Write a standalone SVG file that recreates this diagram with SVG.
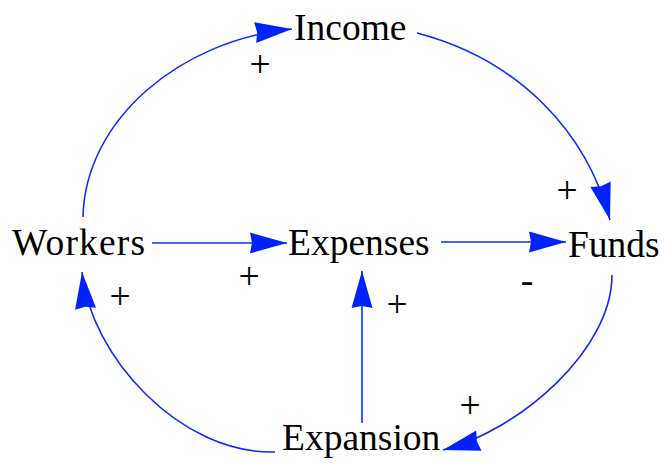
<svg xmlns="http://www.w3.org/2000/svg" width="664" height="467" viewBox="0 0 664 467">
<style>
.lbl{font-family:"Liberation Serif","Times New Roman",serif;font-size:37.5px;fill:#000}
.sgn{font-family:"Liberation Serif","Times New Roman",serif;font-size:37.5px;fill:#000;text-anchor:middle}
.c{fill:none;stroke:#0a2cff;stroke-width:1.6}
</style>
<defs>
<marker id="ah" markerUnits="userSpaceOnUse" markerWidth="42" markerHeight="26" viewBox="-40 -13 42 26" refX="0" refY="0" orient="auto">
<path d="M0,0 L-37,-10.5 L-35,0 L-37,10.5 z" fill="#0022ff"/>
</marker>
</defs>
<rect width="664" height="467" fill="#fff"/>
<g id="connectors">
<path class="c" d="M83,217 C85,120 180,40 292,29" marker-end="url(#ah)"/>
<path class="c" d="M417,33 C520,60 587,133 610,220" marker-end="url(#ah)"/>
<path class="c" d="M612,275 C612,350 520,430 443,450" marker-end="url(#ah)"/>
<path class="c" d="M275,452 C180,455 90,355 82,272" marker-end="url(#ah)"/>
<path class="c" d="M152,243 L287,243" marker-end="url(#ah)"/>
<path class="c" d="M441,242 L566,242" marker-end="url(#ah)"/>
<path class="c" d="M362,423 L362,271" marker-end="url(#ah)"/>
</g>
<g id="income"><text class="lbl" x="294" y="40">Income</text></g>
<g id="workers"><text class="lbl" x="12" y="255" textLength="133" lengthAdjust="spacing">Workers</text></g>
<g id="expenses"><text class="lbl" x="288" y="255">Expenses</text></g>
<g id="funds"><text class="lbl" x="568" y="257">Funds</text></g>
<g id="expansion"><text class="lbl" x="282" y="450">Expansion</text></g>
<g id="polarities">
<text class="sgn" x="260" y="77">+</text>
<text class="sgn" x="567" y="203">+</text>
<text class="sgn" x="249" y="289">+</text>
<text class="sgn" x="120" y="309">+</text>
<text class="sgn" x="397" y="317">+</text>
<text class="sgn" x="470" y="418">+</text>
<text class="sgn" x="527" y="293">-</text>
</g>
</svg>
